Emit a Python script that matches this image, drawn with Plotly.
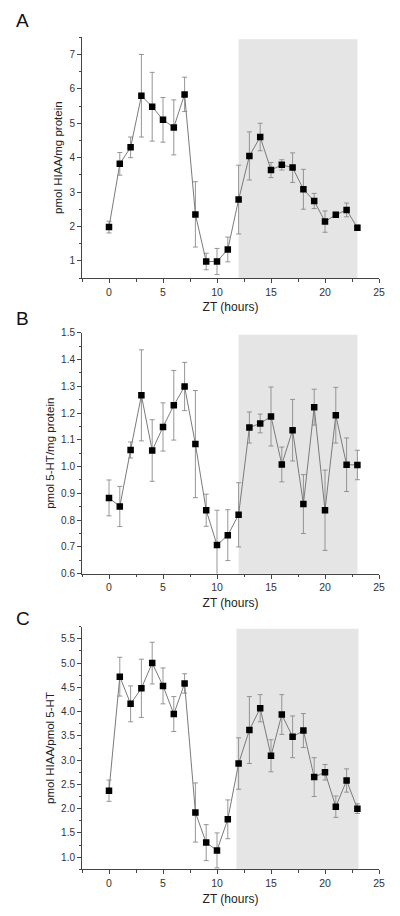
import plotly.graph_objects as go

zt = list(range(24))

hiaa_protein = [1.98, 3.82, 4.30, 5.80, 5.48, 5.10, 4.88, 5.84, 2.35, 0.98, 0.98, 1.33,
                2.78, 4.05, 4.60, 3.64, 3.79, 3.71, 3.08, 2.74, 2.14, 2.34, 2.48, 1.96]
hiaa_protein_err = [0.17, 0.33, 0.30, 1.20, 1.00, 0.65, 0.80, 0.50, 0.95, 0.24, 0.38, 0.36,
                    1.00, 0.70, 0.40, 0.22, 0.15, 0.43, 0.58, 0.22, 0.31, 0.07, 0.20, 0.08]

ht_protein = [0.883, 0.851, 1.062, 1.266, 1.060, 1.148, 1.229, 1.299, 1.084, 0.837, 0.707, 0.744,
              0.820, 1.146, 1.161, 1.187, 1.008, 1.136, 0.860, 1.222, 0.837, 1.192, 1.007, 1.006]
ht_protein_err = [0.067, 0.075, 0.030, 0.170, 0.115, 0.090, 0.130, 0.090, 0.200, 0.060, 0.130, 0.095,
                  0.120, 0.058, 0.035, 0.110, 0.065, 0.115, 0.110, 0.067, 0.150, 0.104, 0.100, 0.055]

hiaa_ht = [2.37, 4.72, 4.16, 4.48, 5.00, 4.53, 3.95, 4.58, 1.92, 1.30, 1.14, 1.78,
           2.93, 3.62, 4.07, 3.09, 3.94, 3.48, 3.61, 2.65, 2.75, 2.04, 2.58, 2.00]
hiaa_ht_err = [0.22, 0.40, 0.37, 0.60, 0.43, 0.37, 0.36, 0.20, 0.61, 0.37, 0.36, 0.40,
               0.53, 0.69, 0.28, 0.33, 0.41, 0.43, 0.35, 0.40, 0.16, 0.22, 0.24, 0.10]

panels = [
    ("A", hiaa_protein, hiaa_protein_err, "pmol HIAA/mg protein", [0.5, 7.5], 1, 0.5, None, (12, 23)),
    ("B", ht_protein, ht_protein_err, "pmol 5-HT/mg protein", [0.6, 1.5], 0.1, 0.05, ".1f", (12, 23)),
    ("C", hiaa_ht, hiaa_ht_err, "pmol HIAA/pmol 5-HT", [0.75, 5.75], 0.5, 0.25, ".1f", (11.8, 23.1)),
]

W, H = 400, 916
x_dom = [82 / W, 379 / W]
y_doms = [
    [1 - 278 / H, 1 - 37.3 / H],
    [1 - 573.7 / H, 1 - 332.7 / H],
    [1 - 869.3 / H, 1 - 626.7 / H],
]
letter_y = [20, 318, 618]

fig = go.Figure()
font = "Liberation Sans, Arial, Helvetica, sans-serif"
axcol = "#444444"

for i, (lab, vals, errs, ytitle, yr, dt, mdt, fmt, shade) in enumerate(panels):
    n = "" if i == 0 else str(i + 1)
    xa = "x" + n
    ya = "y" + n
    fig.add_trace(go.Scatter(
        x=zt, y=vals, xaxis=xa, yaxis=ya, mode="lines+markers",
        line=dict(color="#7a7a7a", width=1),
        marker=dict(symbol="square", size=6.5, color="black"),
        error_y=dict(type="data", array=errs, visible=True, color="#8a8a8a",
                     thickness=0.9, width=2.5),
        showlegend=False,
    ))
    fig.add_shape(type="rect", xref=xa, yref=ya + " domain", x0=shade[0], x1=shade[1],
                  y0=0, y1=0.992, fillcolor="#e5e5e5", line=dict(width=0), layer="below")
    xkey = "xaxis" + n
    ykey = "yaxis" + n
    fig.update_layout({
        xkey: dict(domain=x_dom, anchor=ya, range=[-2.5, 25], tickvals=[0, 5, 10, 15, 20, 25],
                   automargin=False,
                   ticks="outside", ticklen=4, tickcolor=axcol, showline=True, linecolor=axcol,
                   linewidth=1, showgrid=False, zeroline=False,
                   minor=dict(dtick=2.5, tick0=0, ticks="outside", ticklen=2.5, tickcolor=axcol),
                   tickfont=dict(size=10.5, color="#333"),
                   title=dict(text="ZT (hours)", font=dict(size=12, color="#222"), standoff=6)),
        ykey: dict(domain=y_doms[i], anchor=xa, range=yr, dtick=dt, tick0=0,
                   automargin=False,
                   tickformat=fmt, ticks="outside", ticklen=4, tickcolor=axcol,
                   showline=True, linecolor=axcol, linewidth=1, showgrid=False, zeroline=False,
                   minor=dict(dtick=mdt, tick0=0, ticks="outside", ticklen=2.5, tickcolor=axcol),
                   tickfont=dict(size=10, color="#333"),
                   title=dict(text=ytitle, font=dict(size=11.5, color="#222"), standoff=4)),
    })
    fig.add_annotation(text=lab, xref="paper", yref="paper", x=14 / W, y=1 - letter_y[i] / H,
                       xanchor="left", yanchor="middle", showarrow=False,
                       font=dict(size=19, color="#111", family=font))

fig.update_layout(
    width=W, height=H, margin=dict(l=0, r=0, t=0, b=0, autoexpand=False),
    paper_bgcolor="white", plot_bgcolor="white",
    font=dict(family=font),
)

fig.write_html("out.html", config={"displayModeBar": False},
               post_script="document.body.style.margin='0';document.body.style.overflow='hidden';")
